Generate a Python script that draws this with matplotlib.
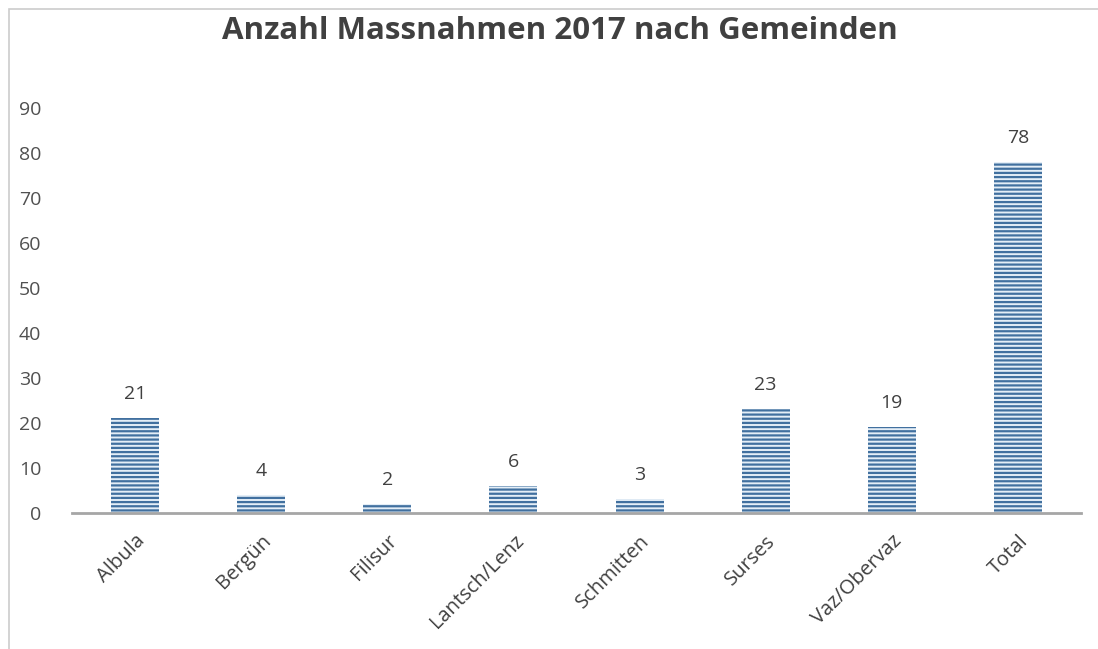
import matplotlib
matplotlib.use("Agg")
import matplotlib.pyplot as plt
from matplotlib.patches import Rectangle

categories = ["Albula", "Bergün", "Filisur", "Lantsch/Lenz", "Schmitten", "Surses", "Vaz/Obervaz", "Total"]
values = [21, 4, 2, 6, 3, 23, 19, 78]
yticks = [0, 10, 20, 30, 40, 50, 60, 70, 80, 90]
title = "Anzahl Massnahmen 2017 nach Gemeinden"

plt.rcParams['font.family'] = ['Open Sans', 'DejaVu Sans']
plt.rcParams['hatch.linewidth'] = 1.6

fig = plt.figure(figsize=(10.98, 6.49), dpi=100)
ax = fig.add_axes([0.0656, 0.2096, 0.9189, 0.624])

x = list(range(len(categories)))
bars = ax.bar(x, values, width=0.38, color='#e4eef7', edgecolor='#41709f',
              hatch='----', linewidth=0)

for xi, v in zip(x, values):
    ax.annotate(str(v), (xi, v), xytext=(0, 11), textcoords='offset points',
                ha='center', va='bottom', fontsize=14, color='#404040')

ax.set_xlim(-0.5, 7.5)
ax.set_ylim(0, 90)
ax.set_yticks(yticks)
ax.set_yticklabels([str(t) for t in yticks], fontsize=14, color='#505050')
ax.set_xticks(x)
ax.set_xticklabels(categories, rotation=45, ha='right', rotation_mode='anchor',
                   fontsize=14.5, color='#404040')
for lbl in ax.get_xticklabels():
    lbl.set_x(lbl.get_position()[0])
ax.tick_params(axis='both', length=0)
ax.tick_params(axis='y', pad=22)
ax.tick_params(axis='x', pad=13)
for s in ['top', 'right', 'left']:
    ax.spines[s].set_visible(False)
ax.spines['bottom'].set_color('#a6a6a6')
ax.spines['bottom'].set_linewidth(2)

fig.text(0.51, 0.952, title, ha='center', va='center', fontsize=22.5,
         fontweight='bold', color='#404040')

fig.patches.append(Rectangle((0.0082, -0.1), 1.2, 0.1 + 0.986, transform=fig.transFigure,
                             fill=False, edgecolor='#cccccc', linewidth=1.2))

fig.savefig("out.png", dpi=100)
